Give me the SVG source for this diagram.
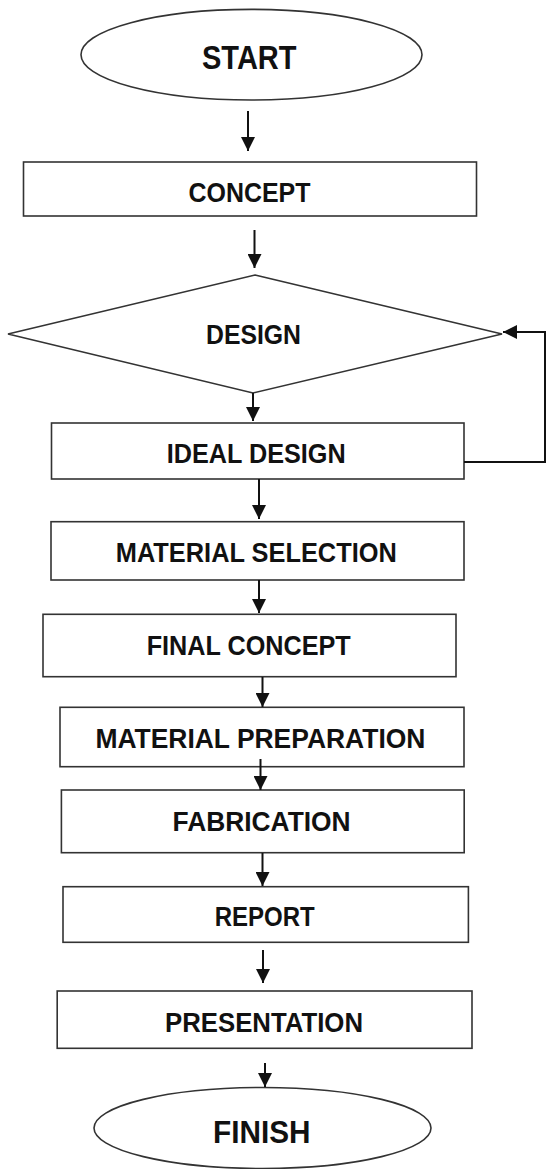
<svg xmlns="http://www.w3.org/2000/svg" width="548" height="1169" viewBox="0 0 548 1169">
<style>
.shape{fill:#fff;stroke:#333;stroke-width:1.6}
.lbl{font-family:"Liberation Sans",Arial,sans-serif;font-weight:bold;font-size:27px;fill:#111}
.big{font-size:33px}
.conn{fill:none;stroke:#111;stroke-width:2}
</style>
<defs>
<marker id="ah" markerUnits="userSpaceOnUse" markerWidth="14" markerHeight="14" refX="14" refY="7" orient="auto">
<path d="M0,0 L14,7 L0,14 z" fill="#111"/>
</marker>
</defs>
<rect width="548" height="1169" fill="#fff"/>
<g id="start">
<ellipse class="shape" cx="251.5" cy="54.7" rx="170.5" ry="45.3"/>
<text class="lbl big" x="202" y="69" textLength="94.5" lengthAdjust="spacingAndGlyphs">START</text>
</g>
<g id="concept">
<rect class="shape" x="23.5" y="162" width="453" height="54"/>
<text class="lbl" x="188.5" y="202.3" textLength="122" lengthAdjust="spacingAndGlyphs">CONCEPT</text>
</g>
<g id="design">
<polygon class="shape" points="255,275 502,334 253,393 8,334"/>
<text class="lbl" x="206" y="344" textLength="95" lengthAdjust="spacingAndGlyphs">DESIGN</text>
</g>
<g id="ideal-design">
<rect class="shape" x="51.5" y="423" width="412.5" height="56"/>
<text class="lbl" x="166.7" y="463.3" textLength="179" lengthAdjust="spacingAndGlyphs">IDEAL DESIGN</text>
</g>
<g id="material-selection">
<rect class="shape" x="51" y="521.7" width="413" height="58.3"/>
<text class="lbl" x="115.8" y="562.3" textLength="281" lengthAdjust="spacingAndGlyphs">MATERIAL SELECTION</text>
</g>
<g id="final-concept">
<rect class="shape" x="43" y="614.3" width="413" height="62.4"/>
<text class="lbl" x="146.7" y="655" textLength="204" lengthAdjust="spacingAndGlyphs">FINAL CONCEPT</text>
</g>
<g id="material-preparation">
<rect class="shape" x="60" y="707.3" width="404" height="59.4"/>
<text class="lbl" x="95.4" y="747.7" textLength="330" lengthAdjust="spacingAndGlyphs">MATERIAL PREPARATION</text>
</g>
<g id="fabrication">
<rect class="shape" x="61.4" y="790" width="402.8" height="62.7"/>
<text class="lbl" x="172.6" y="830.7" textLength="178" lengthAdjust="spacingAndGlyphs">FABRICATION</text>
</g>
<g id="report">
<rect class="shape" x="63" y="886.7" width="405.4" height="55.6"/>
<text class="lbl" x="214.7" y="925.7" textLength="100" lengthAdjust="spacingAndGlyphs">REPORT</text>
</g>
<g id="presentation">
<rect class="shape" x="57.2" y="991" width="414.8" height="57.3"/>
<text class="lbl" x="165" y="1031.7" textLength="198" lengthAdjust="spacingAndGlyphs">PRESENTATION</text>
</g>
<g id="finish">
<ellipse class="shape" cx="262.5" cy="1128" rx="168.5" ry="40.5"/>
<text class="lbl" x="213" y="1143.3" style="font-size:31.5px" textLength="97.5" lengthAdjust="spacingAndGlyphs">FINISH</text>
</g>
<g id="connectors">
<line class="conn" x1="248" y1="111" x2="248" y2="151" marker-end="url(#ah)"/>
<line class="conn" x1="254.5" y1="230" x2="254.5" y2="268" marker-end="url(#ah)"/>
<line class="conn" x1="253" y1="393" x2="253" y2="421" marker-end="url(#ah)"/>
<line class="conn" x1="259" y1="479" x2="259" y2="519" marker-end="url(#ah)"/>
<line class="conn" x1="259" y1="580" x2="259" y2="613" marker-end="url(#ah)"/>
<line class="conn" x1="262.5" y1="677" x2="262.5" y2="707" marker-end="url(#ah)"/>
<line class="conn" x1="260.5" y1="759" x2="260.5" y2="790" marker-end="url(#ah)"/>
<line class="conn" x1="262.5" y1="853" x2="262.5" y2="886" marker-end="url(#ah)"/>
<line class="conn" x1="263" y1="950" x2="263" y2="983" marker-end="url(#ah)"/>
<line class="conn" x1="265" y1="1063" x2="265" y2="1087" marker-end="url(#ah)"/>
<polyline class="conn" points="464,462 545,462 545,332 503,332" marker-end="url(#ah)"/>
</g>
</svg>
